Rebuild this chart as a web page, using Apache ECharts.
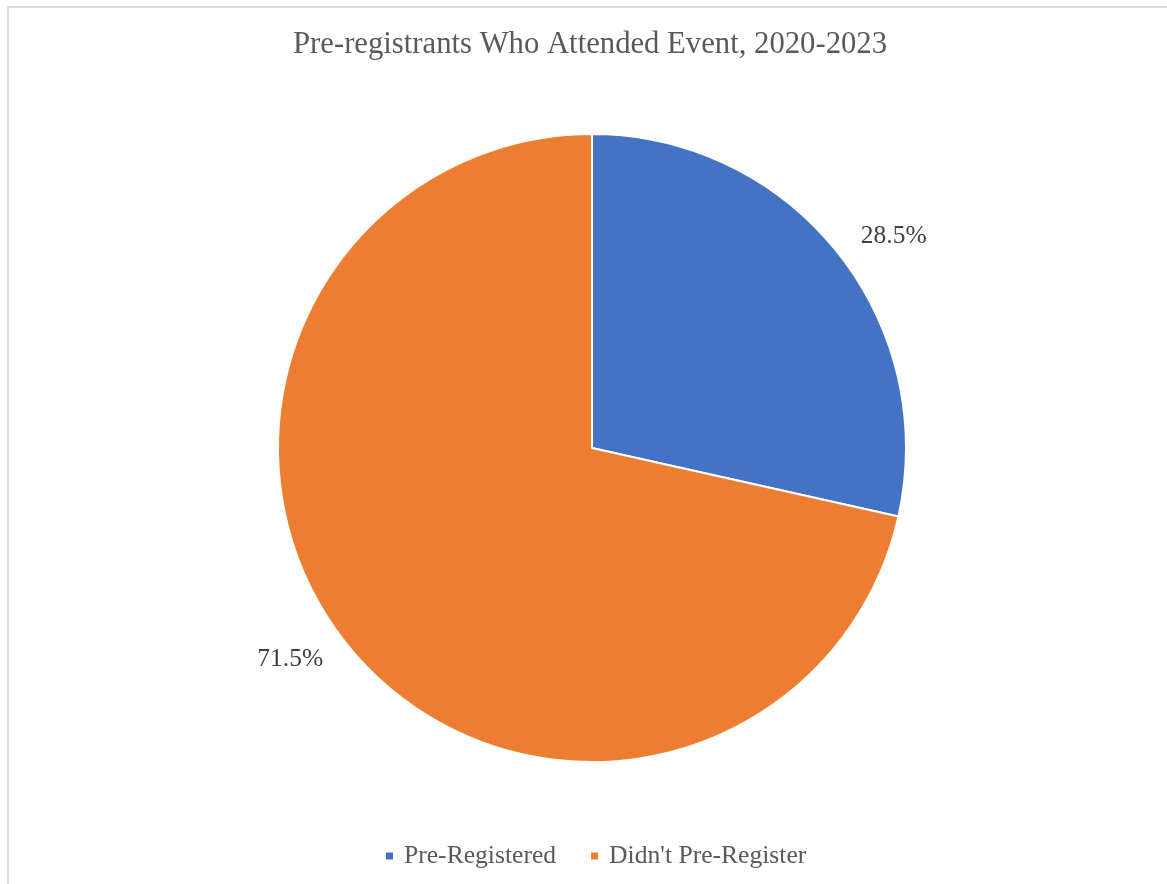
<!DOCTYPE html>
<html>
<head>
<meta charset="utf-8">
<script src="https://cdn.jsdelivr.net/npm/echarts@6/dist/echarts.min.js"></script>
<style>
html,body{margin:0;padding:0;background:#fff;overflow:hidden;}
#frame{position:absolute;left:7px;top:6px;width:1200px;height:920px;border:2px solid #d9d9d9;box-sizing:border-box;}
#chart{position:absolute;left:0;top:0;width:1167px;height:884px;}
</style>
</head>
<body>
<div id="frame"></div>
<div id="chart"></div>
<script>
const titleText = 'Pre-registrants Who Attended Event, 2020-2023';
const categories = ['Pre-Registered', "Didn't Pre-Register"];
const values = [28.5, 71.5];
const colors = ['#4472C4', '#ED7D31'];

const chart = echarts.init(document.getElementById('chart'), null, {renderer: 'canvas'});
const font = '"Liberation Serif", "Times New Roman", serif';
chart.setOption({
  animation: false,
  title: {
    text: titleText,
    left: 288,
    top: 24,
    textStyle: {fontFamily: font, fontSize: 30.7, fontWeight: 'normal', color: '#595959'}
  },
  legend: {
    bottom: 10,
    left: 379,
    icon: 'rect',
    itemWidth: 9,
    itemHeight: 9,
    itemGap: 33,
    data: categories,
    textStyle: {fontFamily: font, fontSize: 25.6, color: '#595959', padding: [0, 0, 0, 5]}
  },
  series: [{
    type: 'pie',
    center: [592, 448],
    radius: 314,
    startAngle: 90,
    clockwise: true,
    data: categories.map((c, i) => ({name: c, value: values[i], itemStyle: {color: colors[i]}})),
    itemStyle: {borderColor: '#fff', borderWidth: 2},
    label: {
      show: true,
      position: 'outside',
      formatter: p => p.value.toFixed(1) + '%',
      fontFamily: font,
      fontSize: 25.5,
      color: '#404040'
    },
    labelLine: {show: false, length: 24, length2: 0},
    emphasis: {disabled: true}
  }]
});
</script>
</body>
</html>
